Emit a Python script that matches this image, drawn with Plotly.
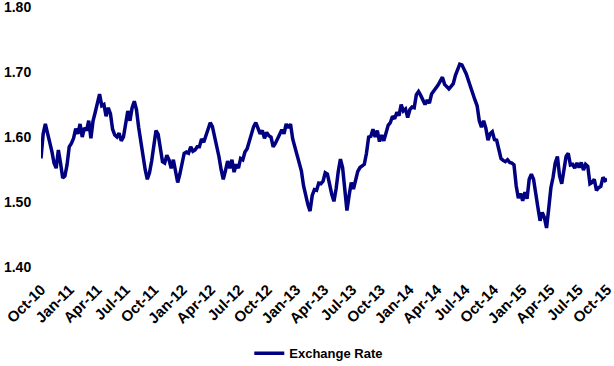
import pandas as pd
import plotly.graph_objects as go

# Weekly GBP/USD exchange rate, Oct-2010 .. Oct-2015
start_date = "2010-10-01"
rate = [
    1.567, 1.605, 1.620, 1.603, 1.592, 1.578, 1.560, 1.552, 1.580, 1.560,
    1.537, 1.540, 1.557, 1.585, 1.590, 1.598, 1.613, 1.605, 1.620, 1.600,
    1.614, 1.610, 1.625, 1.598, 1.625, 1.638, 1.652, 1.666, 1.648, 1.650,
    1.632, 1.645, 1.636, 1.612, 1.603, 1.600, 1.606, 1.594, 1.600, 1.625,
    1.640, 1.625, 1.645, 1.655, 1.642, 1.615, 1.592, 1.568, 1.550, 1.535,
    1.545, 1.563, 1.588, 1.610, 1.604, 1.582, 1.562, 1.560, 1.572, 1.565,
    1.552, 1.565, 1.550, 1.530, 1.543, 1.560, 1.575, 1.577, 1.575, 1.585,
    1.578, 1.580, 1.585, 1.585, 1.597, 1.592, 1.603, 1.615, 1.622, 1.616,
    1.602, 1.585, 1.570, 1.550, 1.535, 1.548, 1.563, 1.552, 1.565, 1.546,
    1.558, 1.552, 1.567, 1.565, 1.577, 1.582, 1.595, 1.607, 1.616, 1.622,
    1.615, 1.605, 1.610, 1.598, 1.607, 1.602, 1.600, 1.585, 1.590, 1.598,
    1.606, 1.611, 1.605, 1.620, 1.614, 1.620, 1.597, 1.585, 1.570, 1.563,
    1.548, 1.525, 1.507, 1.496, 1.486, 1.510, 1.519, 1.518, 1.529, 1.528,
    1.532, 1.545, 1.543, 1.525, 1.512, 1.501, 1.520, 1.547, 1.566, 1.553,
    1.522, 1.487, 1.510, 1.530, 1.520, 1.535, 1.547, 1.553, 1.555, 1.558,
    1.575, 1.600, 1.601, 1.612, 1.600, 1.610, 1.593, 1.603, 1.594, 1.606,
    1.618, 1.622, 1.632, 1.628, 1.638, 1.633, 1.650, 1.640, 1.643, 1.630,
    1.642, 1.646, 1.645, 1.665, 1.670, 1.664, 1.656, 1.650, 1.657, 1.652,
    1.666, 1.670, 1.675, 1.680, 1.686, 1.692, 1.681, 1.677, 1.674, 1.678,
    1.682, 1.695, 1.705, 1.712, 1.711, 1.705, 1.697, 1.687, 1.675, 1.667,
    1.657, 1.648, 1.625, 1.615, 1.625, 1.614, 1.595, 1.605, 1.608, 1.596,
    1.595, 1.580, 1.567, 1.564, 1.562, 1.565, 1.561, 1.560, 1.557, 1.525,
    1.506, 1.513, 1.502, 1.515, 1.505, 1.535, 1.543, 1.535, 1.510, 1.492,
    1.471, 1.484, 1.476, 1.460, 1.490, 1.522, 1.538, 1.560, 1.570, 1.540,
    1.528, 1.550, 1.570, 1.575, 1.557, 1.558, 1.552, 1.560, 1.553, 1.561,
    1.549, 1.558, 1.555, 1.528, 1.530, 1.535, 1.518, 1.522, 1.524, 1.538,
    1.533, 1.535,
]
dates = pd.date_range(start_date, periods=len(rate), freq="7D")

tick_dates = ["2010-10-01", "2011-01-01", "2011-04-01", "2011-07-01", "2011-10-01",
              "2012-01-01", "2012-04-01", "2012-07-01", "2012-10-01", "2013-01-01",
              "2013-04-01", "2013-07-01", "2013-10-01", "2014-01-01", "2014-04-01",
              "2014-07-01", "2014-10-01", "2015-01-01", "2015-04-01", "2015-07-01",
              "2015-10-01"]
tick_labels = ["Oct-10", "Jan-11", "Apr-11", "Jul-11", "Oct-11", "Jan-12", "Apr-12",
               "Jul-12", "Oct-12", "Jan-13", "Apr-13", "Jul-13", "Oct-13", "Jan-14",
               "Apr-14", "Jul-14", "Oct-14", "Jan-15", "Apr-15", "Jul-15", "Oct-15"]
y_ticks = [1.40, 1.50, 1.60, 1.70, 1.80]

series_name = "Exchange Rate"

fig = go.Figure()
fig.add_trace(go.Scatter(
    x=dates, y=rate, mode="lines", name=series_name,
    line=dict(color="#000080", width=3.5),
))

font_bold = dict(family="Liberation Sans, Arial, sans-serif", color="#000000", weight="bold")

fig.update_layout(
    width=614, height=366,
    margin=dict(l=41, r=7, t=7, b=99, autoexpand=False),
    paper_bgcolor="white", plot_bgcolor="white",
    showlegend=True,
    legend=dict(
        orientation="h", xref="container", yref="container",
        x=0.406, xanchor="left", y=0.035, yanchor="middle",
        font=dict(size=13, **font_bold), bgcolor="rgba(0,0,0,0)",
    ),
    xaxis=dict(
        type="date", range=["2010-10-01", "2015-10-01"],
        tickmode="array", tickvals=tick_dates, ticktext=tick_labels,
        tickangle=-45, tickfont=dict(size=15, **font_bold),
        showgrid=False, zeroline=False, showline=False,
        ticks="outside", ticklen=7, tickcolor="rgba(0,0,0,0)",
        ticklabelshift=0,
        automargin=False, ticklabeloverflow="allow",
    ),
    yaxis=dict(
        range=[1.40, 1.80], tickmode="array", tickvals=y_ticks, tickformat=".2f",
        tickfont=dict(size=14, **font_bold),
        showgrid=False, zeroline=False, showline=False,
        ticks="outside", ticklen=6, tickcolor="rgba(0,0,0,0)",
        automargin=False, ticklabeloverflow="allow",
    ),
)

fig.write_html("out.html", config={"displayModeBar": False},
               post_script="document.body.style.margin='0px';")
